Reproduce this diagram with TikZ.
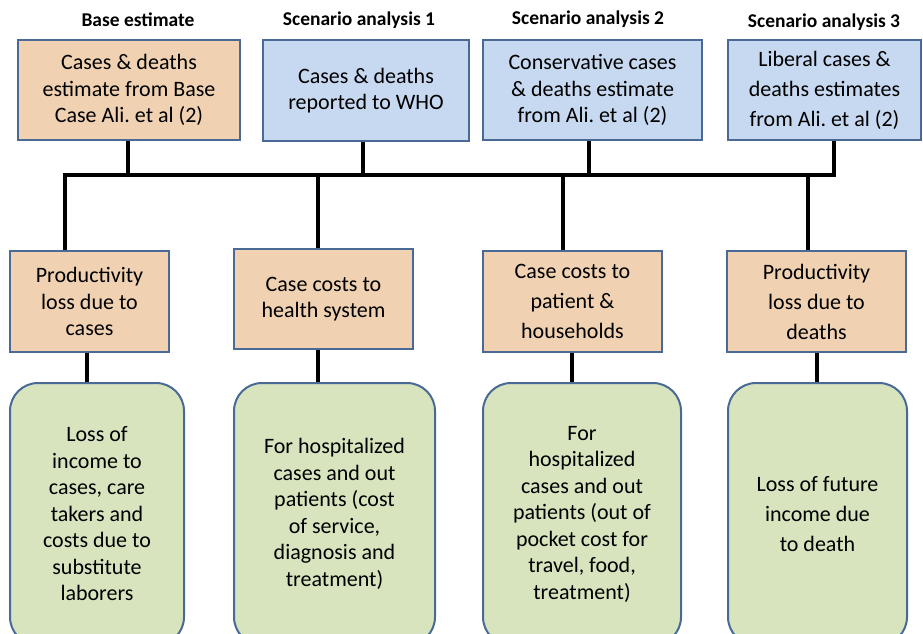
\documentclass[tikz,border=0pt]{standalone}
\usepackage{fontspec}
\setmainfont{Carlito}
\frenchspacing
\usetikzlibrary{positioning,calc}
\definecolor{basefill}{RGB}{240,210,178}
\definecolor{scenfill}{RGB}{198,217,240}
\definecolor{descfill}{RGB}{215,228,190}
\definecolor{boxline}{RGB}{74,106,150}
\tikzset{
  box/.style={draw=boxline,line width=2pt,align=center,inner sep=2pt,
    font=\fontsize{22}{26.5}\selectfont},
  wide/.style={font=\fontsize{22}{30}\selectfont},
  basebox/.style={box,fill=basefill},
  scenbox/.style={box,fill=scenfill},
  costbox/.style={box,fill=basefill},
  descbox/.style={box,fill=descfill,rounded corners=28pt},
  head/.style={font=\bfseries\fontsize{19.5}{22}\selectfont},
  link/.style={line width=3.6pt}
}

\begin{document}
\begin{tikzpicture}[x=1pt,y=-1pt]
        \useasboundingbox (0,0) rectangle (923,633);
        % draw headings
        \node[head] (h1) at (138,20) {Base estimate};
        \node[head] (h2) at (359,20) {Scenario analysis 1};
        \node[head] (h3) at (588,19) {Scenario analysis 2};
        \node[head] (h4) at (824,22) {Scenario analysis 3};
        % draw estimate boxes
        \node[basebox,minimum width=222pt,minimum height=100pt] (t1) at (129,90)
          {Cases \& deaths\\estimate from Base\\Case Ali. et al (2)};
        \node[scenbox,minimum width=206pt,minimum height=101pt] (t2) at (366,90.5)
          {Cases \& deaths\\reported to WHO};
        \node[scenbox,minimum width=219pt,minimum height=100pt] (t3) at (592.5,90)
          {Conservative cases\\\& deaths estimate\\from Ali. et al (2)};
        \node[scenbox,wide,minimum width=193pt,minimum height=100pt] (t4) at (824.5,90)
          {Liberal cases \&\\deaths estimates\\from Ali. et al (2)};
        % draw cost boxes
        \node[costbox,minimum width=159pt,minimum height=101pt] (m1) at (89.5,301.5)
          {Productivity\\loss due to\\cases};
        \node[costbox,minimum width=179pt,minimum height=100pt] (m2) at (323.5,299)
          {Case costs to\\health system};
        \node[costbox,wide,minimum width=179pt,minimum height=101pt] (m3) at (572.5,301.5)
          {Case costs to\\patient \&\\households};
        \node[costbox,wide,minimum width=179pt,minimum height=101pt] (m4) at (816.5,301.5)
          {Productivity\\loss due to\\deaths};
        % draw description boxes
        \node[descbox,minimum width=174pt,minimum height=262pt] (b1) at (97,514)
          {Loss of\\income to\\cases, care\\takers and\\costs due to\\substitute\\laborers};
        \node[descbox,minimum width=201pt,minimum height=262pt] (b2) at (334.5,514)
          {For hospitalized\\cases and out\\patients (cost\\of service,\\diagnosis and\\treatment)};
        \node[descbox,minimum width=198pt,minimum height=262pt] (b3) at (582,514)
          {For\\hospitalized\\cases and out\\patients (out of\\pocket cost for\\travel, food,\\treatment)};
        \node[descbox,wide,minimum width=179pt,minimum height=262pt] (b4) at (817.5,514)
          {Loss of future\\income due\\to death};
        % junctions on the bar
        \coordinate (up1) at (128,175);
        \coordinate (up2) at (363,175);
        \coordinate (up3) at (589,175);
        \coordinate (up4) at (834,175);
        \coordinate (dn1) at (65,175);
        \coordinate (dn2) at (318,175);
        \coordinate (dn3) at (563,175);
        \coordinate (dn4) at (808,175);
        % draw bar and lines
        \draw[link,line cap=rect] (dn1) -- (up4);
        \foreach \n in {1,...,4}
        {
          \draw[link] (up\n |- t\n.south) -- (up\n);
          \draw[link] (dn\n) -- (dn\n |- m\n.north);
        }
        \draw[link] (87,0 |- m1.south) -- (87,0 |- b1.north);
        \draw[link] (318,0 |- m2.south) -- (318,0 |- b2.north);
        \draw[link] (572,0 |- m3.south) -- (572,0 |- b3.north);
        \draw[link] (817,0 |- m4.south) -- (817,0 |- b4.north);
\end{tikzpicture}
\end{document}
